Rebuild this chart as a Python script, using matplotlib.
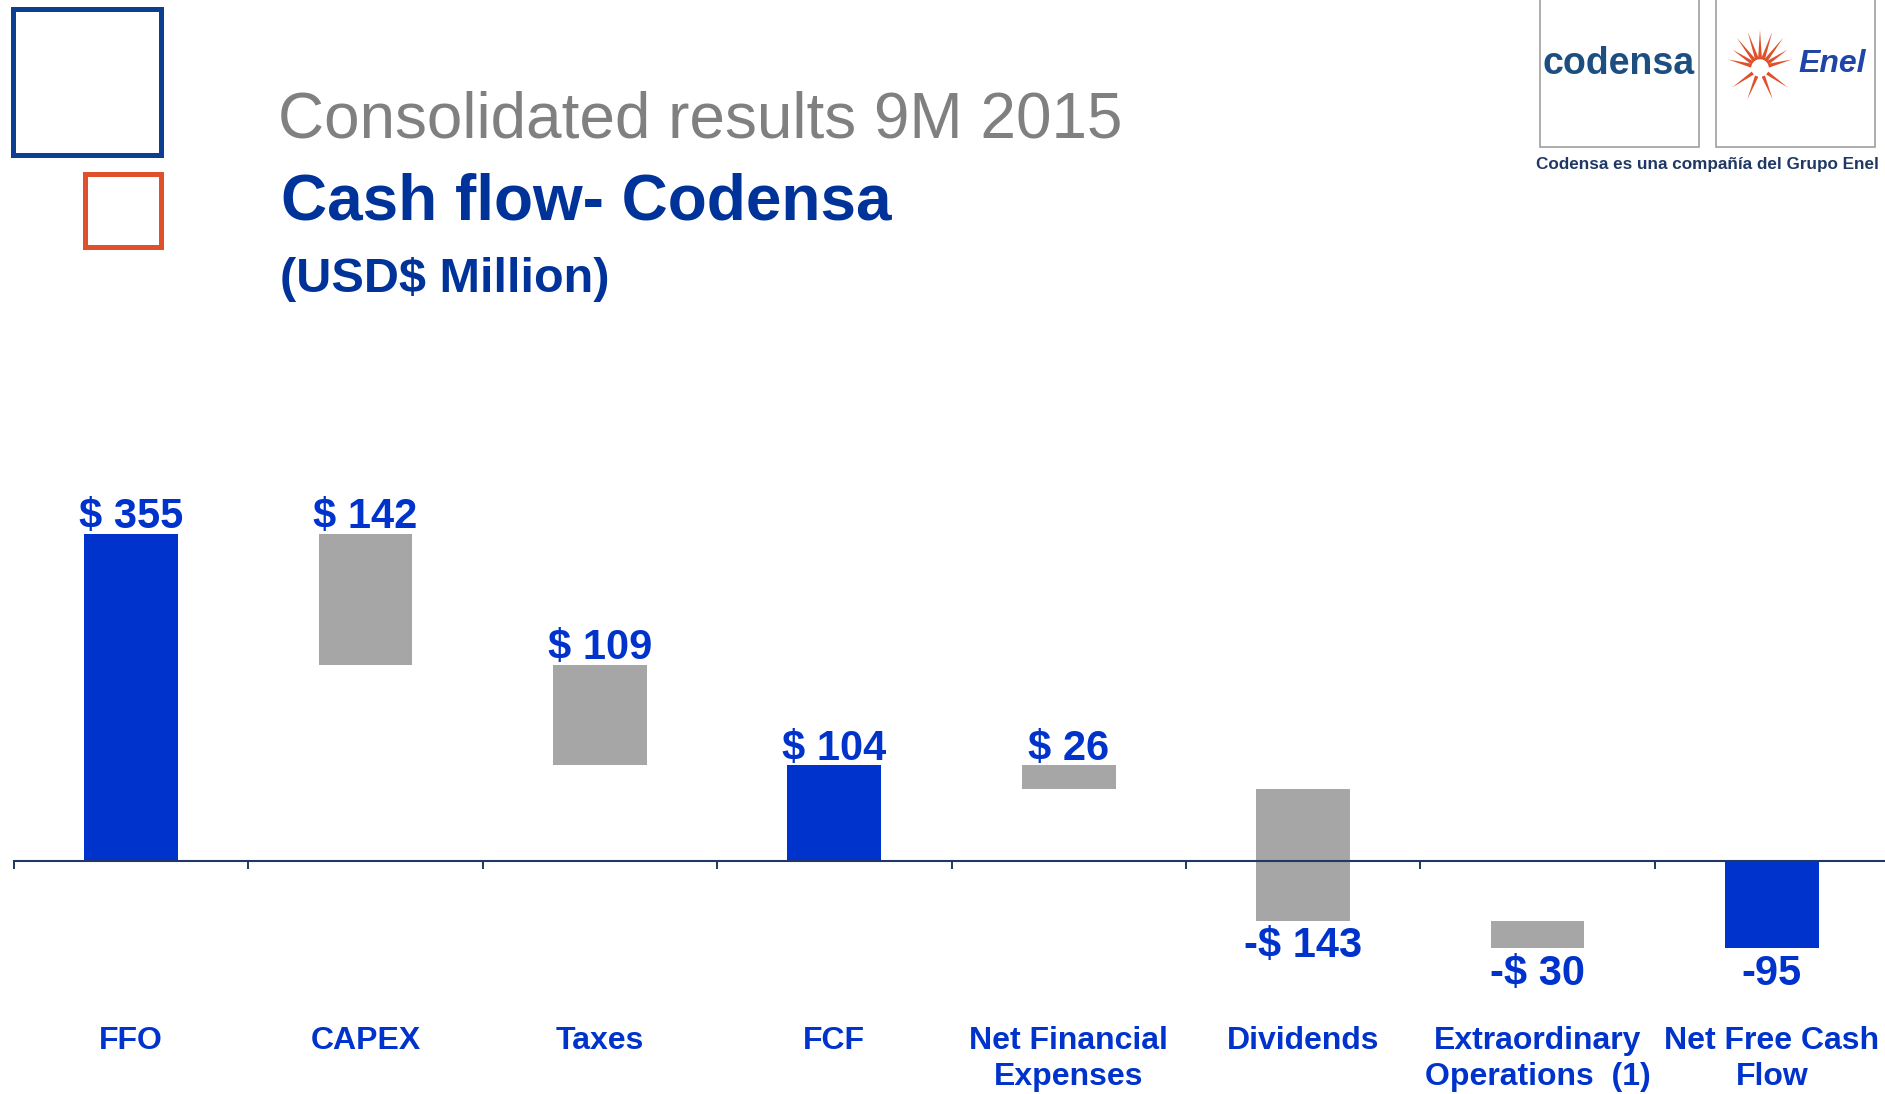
#!/usr/bin/env python3
"""Cash flow waterfall - Codensa 9M 2015 (USD$ Million)."""
import matplotlib

matplotlib.use("Agg")
import matplotlib.pyplot as plt
from matplotlib.patches import Rectangle, Polygon
import numpy as np

plt.rcParams["font.family"] = ["Liberation Sans", "DejaVu Sans"]

# data
categories = [
    "FFO",
    "CAPEX",
    "Taxes",
    "FCF",
    "Net Financial\nExpenses",
    "Dividends",
    "Extraordinary\nOperations  (1)",
    "Net Free Cash\nFlow",
]
values = [355, -142, -109, 104, -26, -143, -30, -95]
is_total = [True, False, False, True, False, False, False, True]
value_labels = ["$ 355", "$ 142", "$ 109", "$ 104", "$ 26", "-$ 143", "-$ 30", "-95"]

BLUE = "#0033cc"
GREY = "#a6a6a6"
NAVY = "#1f3864"
TITLE_BLUE = "#003399"

W, H = 1885, 1094
fig = plt.figure(figsize=(W / 100, H / 100), dpi=100)
fig.patch.set_facecolor("white")

# overlay in pixel coords for the slide decorations
deco = fig.add_axes([0, 0, 1, 1], zorder=0)
deco.set_xlim(0, W)
deco.set_ylim(H, 0)
deco.axis("off")

deco.add_patch(Rectangle((13, 9), 148, 146, fill=False, edgecolor="#0b3f91", linewidth=3.6))
deco.add_patch(Rectangle((85, 174), 76, 73, fill=False, edgecolor="#e0502a", linewidth=3.6))

deco.text(278, 138, "Consolidated results 9M 2015", fontsize=46, color="#808080", va="baseline")
deco.text(281, 220, "Cash flow- Codensa", fontsize=46, color=TITLE_BLUE,
          fontweight="bold", va="baseline")
deco.text(280, 292, "(USD$ Million)", fontsize=35, color=TITLE_BLUE,
          fontweight="bold", va="baseline")

# logos
deco.add_patch(Rectangle((1540, -2), 159, 149, fill=False, edgecolor="#a0a0a0", linewidth=1.2))
deco.add_patch(Rectangle((1716, -2), 159, 149, fill=False, edgecolor="#a0a0a0", linewidth=1.2))
deco.text(1619, 64, "codensa", fontsize=27, color="#1c4e80", fontweight="bold",
          ha="center", va="center")
deco.text(1798, 64, "Enel", fontsize=23, color="#1f45a8", fontweight="bold",
          fontstyle="italic", ha="left", va="center")
cx, cy = 1760, 68
for ang in np.linspace(165, 15, 9):
    a = np.deg2rad(ang)
    r0, r1, hw = 9, 38 if 40 < ang < 140 else 33, 0.22
    pts = [
        (cx + r0 * np.cos(a - hw), cy - r0 * np.sin(a - hw)),
        (cx + r1 * np.cos(a), cy - r1 * np.sin(a)),
        (cx + r0 * np.cos(a + hw), cy - r0 * np.sin(a + hw)),
    ]
    deco.add_patch(Polygon(pts, closed=True, color="#e0502a", linewidth=0))
for ang in [-145, -112, -68, -35]:
    a = np.deg2rad(ang)
    r0, r1, hw = 9, 34, 0.2
    pts = [
        (cx + r0 * np.cos(a - hw), cy - r0 * np.sin(a - hw)),
        (cx + r1 * np.cos(a), cy - r1 * np.sin(a)),
        (cx + r0 * np.cos(a + hw), cy - r0 * np.sin(a + hw)),
    ]
    deco.add_patch(Polygon(pts, closed=True, color="#e0502a", linewidth=0))
deco.text(1707, 165, "Codensa es una compañía del Grupo Enel", fontsize=12.3,
          color="#1f3864", fontweight="bold", ha="center", va="center")

# waterfall chart
px_per_unit = 0.921
ylo, yhi = -150, 400
ax_h = (yhi - ylo) * px_per_unit
ax_bottom = (H - 861) - (-ylo) * px_per_unit
ax = fig.add_axes([14 / W, ax_bottom / H, 1875 / W, ax_h / H], zorder=1)
ax.patch.set_alpha(0)

x = np.arange(len(categories))
bottoms, heights, colors = [], [], []
running = 0
for v, tot in zip(values, is_total):
    if tot:
        bottoms.append(0)
        running = v
        colors.append(BLUE)
    else:
        bottoms.append(running)
        running += v
        colors.append(GREY)
    heights.append(v)

ax.bar(x, heights, bottom=bottoms, width=0.40, color=colors, zorder=2)

for xi, b, h, lab in zip(x, bottoms, heights, value_labels):
    lo, hi = min(b, b + h), max(b, b + h)
    if lo < 0:
        ax.annotate(lab, (xi, lo), xytext=(0, -4), textcoords="offset points",
                    ha="center", va="top", fontsize=30, fontweight="bold", color=BLUE)
    else:
        ax.annotate(lab, (xi, hi), xytext=(0, 4), textcoords="offset points",
                    ha="center", va="baseline", fontsize=30, fontweight="bold", color=BLUE)

ax.set_xlim(-0.5, len(categories) - 0.5)
ax.set_ylim(ylo, yhi)

for s in ["top", "right", "left"]:
    ax.spines[s].set_visible(False)
ax.spines["bottom"].set_position(("data", 0))
ax.spines["bottom"].set_color(NAVY)
ax.spines["bottom"].set_linewidth(1.5)
ax.spines["bottom"].set_bounds(-0.5, len(categories) - 0.5)
ax.yaxis.set_visible(False)

ax.set_xticks(np.arange(len(categories) + 1) - 0.5)
ax.set_xticklabels([])
ax.tick_params(axis="x", which="major", direction="out", length=6, width=1.4, color=NAVY)
ax.set_xticks(x, minor=True)
ax.set_xticklabels(categories, minor=True, fontsize=23, fontweight="bold",
                   color=BLUE, linespacing=1.27)
ax.tick_params(axis="x", which="minor", length=0, pad=119)

fig.savefig("out.png", dpi=100, facecolor="white")
